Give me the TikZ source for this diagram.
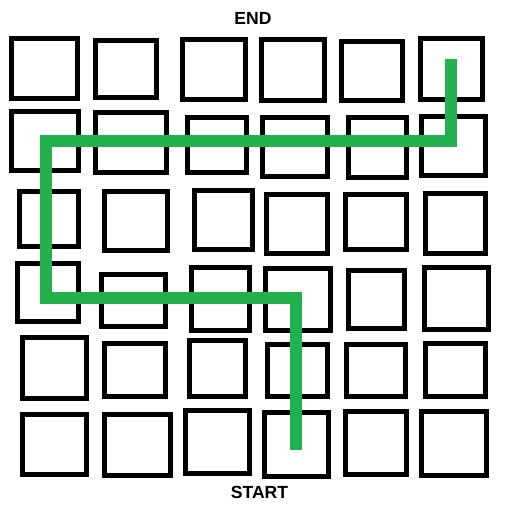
\documentclass[tikz,border=0pt]{standalone}
\usepackage{fontspec}
\setmainfont{Liberation Sans}
\usepackage{tikz}
\usetikzlibrary{fit}
\definecolor{pathgreen}{RGB}{34,177,76}
\tikzset{
  cell/.style={draw=black, line width=0.1cm, inner sep=0pt},
  route/.style={draw=pathgreen, line width=0.24cm, line join=miter, line cap=butt},
  marker/.style={font=\bfseries\fontsize{10}{12}\selectfont, inner sep=0pt}
}
\begin{document}
\begin{tikzpicture}[x=0.02cm, y=-0.02cm]
\useasboundingbox (0,0) rectangle (512,512);

\node[cell, fit={(11.5,38.5) (77.5,98.5)}] (c11) {};
\node[cell, fit={(95.5,40.5) (156.5,97.5)}] (c12) {};
\node[cell, fit={(182.5,39.5) (245.5,99.5)}] (c13) {};
\node[cell, fit={(261.5,39.5) (324.5,100.5)}] (c14) {};
\node[cell, fit={(341.5,41.5) (402.5,100.5)}] (c15) {};
\node[cell, fit={(420.5,38.5) (482.5,99.5)}] (c16) {};

\node[cell, fit={(11.5,111.5) (78.5,170.5)}] (c21) {};
\node[cell, fit={(95.5,112.5) (166.5,172.5)}] (c22) {};
\node[cell, fit={(187.5,117.5) (246.5,172.5)}] (c23) {};
\node[cell, fit={(262.5,117.5) (327.5,176.5)}] (c24) {};
\node[cell, fit={(348.5,117.5) (406.5,177.5)}] (c25) {};
\node[cell, fit={(421.5,116.5) (485.5,175.5)}] (c26) {};

\node[cell, fit={(19.5,191.5) (78.5,246.5)}] (c31) {};
\node[cell, fit={(104.5,191.5) (167.5,250.5)}] (c32) {};
\node[cell, fit={(194.5,190.5) (252.5,249.5)}] (c33) {};
\node[cell, fit={(266.5,194.5) (327.5,253.5)}] (c34) {};
\node[cell, fit={(345.5,194.5) (406.5,249.5)}] (c35) {};
\node[cell, fit={(425.5,193.5) (485.5,253.5)}] (c36) {};

\node[cell, fit={(17.5,263.5) (78.5,321.5)}] (c41) {};
\node[cell, fit={(101.5,274.5) (165.5,326.5)}] (c42) {};
\node[cell, fit={(191.5,267.5) (249.5,330.5)}] (c43) {};
\node[cell, fit={(265.5,268.5) (330.5,330.5)}] (c44) {};
\node[cell, fit={(348.5,270.5) (404.5,328.5)}] (c45) {};
\node[cell, fit={(424.5,267.5) (488.5,329.5)}] (c46) {};

\node[cell, fit={(22.5,337.5) (86.5,398.5)}] (c51) {};
\node[cell, fit={(104.5,343.5) (165.5,396.5)}] (c52) {};
\node[cell, fit={(189.5,340.5) (245.5,396.5)}] (c53) {};
\node[cell, fit={(267.5,344.5) (327.5,396.5)}] (c54) {};
\node[cell, fit={(346.5,344.5) (405.5,396.5)}] (c55) {};
\node[cell, fit={(425.5,343.5) (485.5,396.5)}] (c56) {};

\node[cell, fit={(22.5,414.5) (86.5,474.5)}] (c61) {};
\node[cell, fit={(104.5,414.5) (170.5,475.5)}] (c62) {};
\node[cell, fit={(185.5,410.5) (249.5,473.5)}] (c63) {};
\node[cell, fit={(264.5,412.5) (328.5,476.5)}] (c64) {};
\node[cell, fit={(345.5,411.5) (406.5,474.5)}] (c65) {};
\node[cell, fit={(421.5,411.5) (486.5,475.5)}] (c66) {};

\node[marker] (endlabel) at (253,18.5) {END};
\node[marker] (startlabel) at (259.5,492.5) {START};

\coordinate (go) at (296,450);
\coordinate (turn1) at (296,297.5);
\coordinate (turn2) at (46,297.5);
\coordinate (turn3) at (46,140.5);
\coordinate (turn4) at (451.5,140.5);
\coordinate (goal) at (451.5,59);

\draw[route] (go) -- (turn1) -- (turn2) -- (turn3) -- (turn4) -- (goal);
\end{tikzpicture}
\end{document}
